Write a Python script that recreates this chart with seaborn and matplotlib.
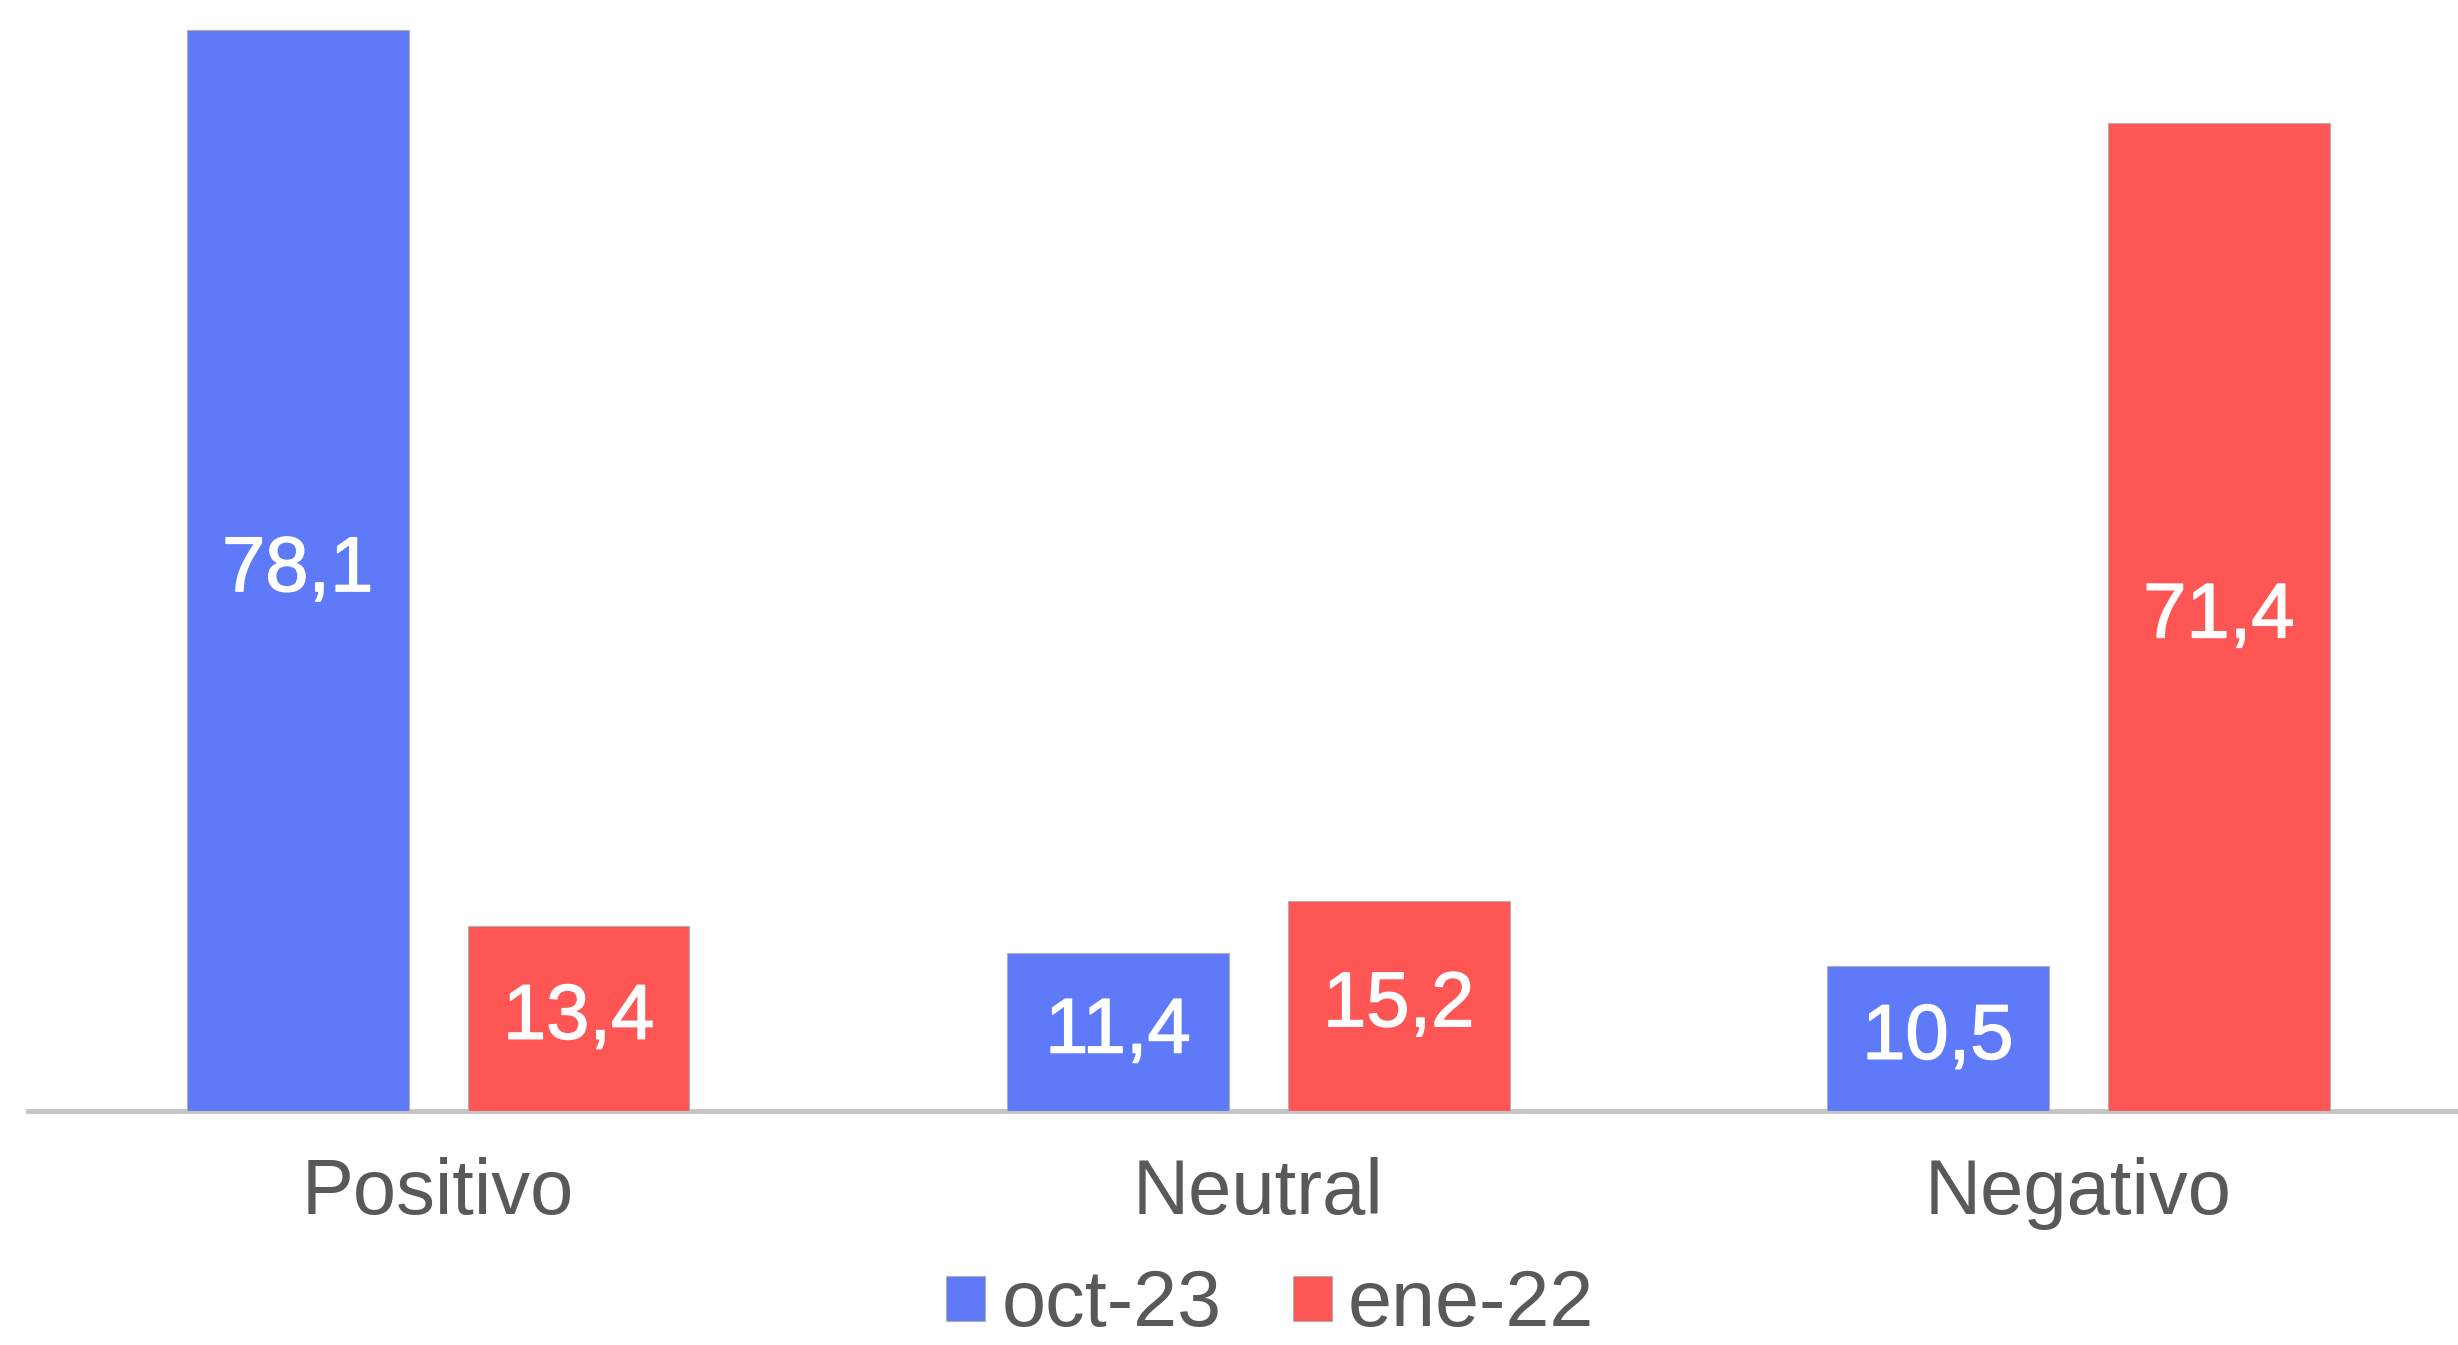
import pandas as pd
import seaborn as sns
import matplotlib.pyplot as plt
import matplotlib.patheffects as pe

# Values
categories = ["Positivo", "Neutral", "Negativo"]
series = ["oct-23", "ene-22"]
oct_23 = [78.1, 11.4, 10.5]
ene_22 = [13.4, 15.2, 71.4]

colors = ["#5E7AF8", "#FE5555"]
text_grey = "#595959"

df = pd.DataFrame({
    "categoria": categories * 2,
    "serie": [series[0]] * 3 + [series[1]] * 3,
    "valor": oct_23 + ene_22,
})

sns.set_style("white")
plt.rcParams["font.family"] = ["Liberation Sans", "DejaVu Sans"]

fig = plt.figure(figsize=(24.58, 13.45), dpi=100)
ax = fig.add_axes([0.0114, 0.174, 0.9886, 0.823])

sns.barplot(data=df, x="categoria", y="valor", hue="serie",
            order=categories, hue_order=series, palette=colors,
            width=0.685, gap=0.21, saturation=1, ax=ax, legend=True,
            edgecolor="#b0b0b0", linewidth=0.8, zorder=3)

# value labels inside bars, decimal comma
for cont in ax.containers:
    labels = [f"{b.get_height():.1f}".replace(".", ",") for b in cont]
    txts = ax.bar_label(cont, labels=labels, label_type="center", color="white",
                        fontsize=56, zorder=4)
    for t in txts:
        t.set_path_effects([pe.withStroke(linewidth=1.0, foreground="white")])

ax.set_xlim(-0.5, 2.463)
ax.set_ylim(0, 80)
ax.set_xlabel("")
ax.set_ylabel("")
ax.set_yticks([])
ax.tick_params(axis="x", length=0, pad=33, labelsize=56, labelcolor=text_grey)

for side in ["top", "left", "right"]:
    ax.spines[side].set_visible(False)
ax.spines["bottom"].set_color("#c4c4c4")
ax.spines["bottom"].set_linewidth(3.5)
ax.spines["bottom"].set_zorder(1)

handles, labels = ax.get_legend_handles_labels()
ax.get_legend().remove()
fig.legend(handles, labels, loc="center", bbox_to_anchor=(0.5167, 0.029),
           ncol=2, frameon=False, fontsize=57, labelcolor=text_grey,
           handlelength=0.5, handleheight=0.5, handletextpad=0.2,
           columnspacing=0.9, borderpad=0.1)

plt.savefig("out.png", dpi=100)
